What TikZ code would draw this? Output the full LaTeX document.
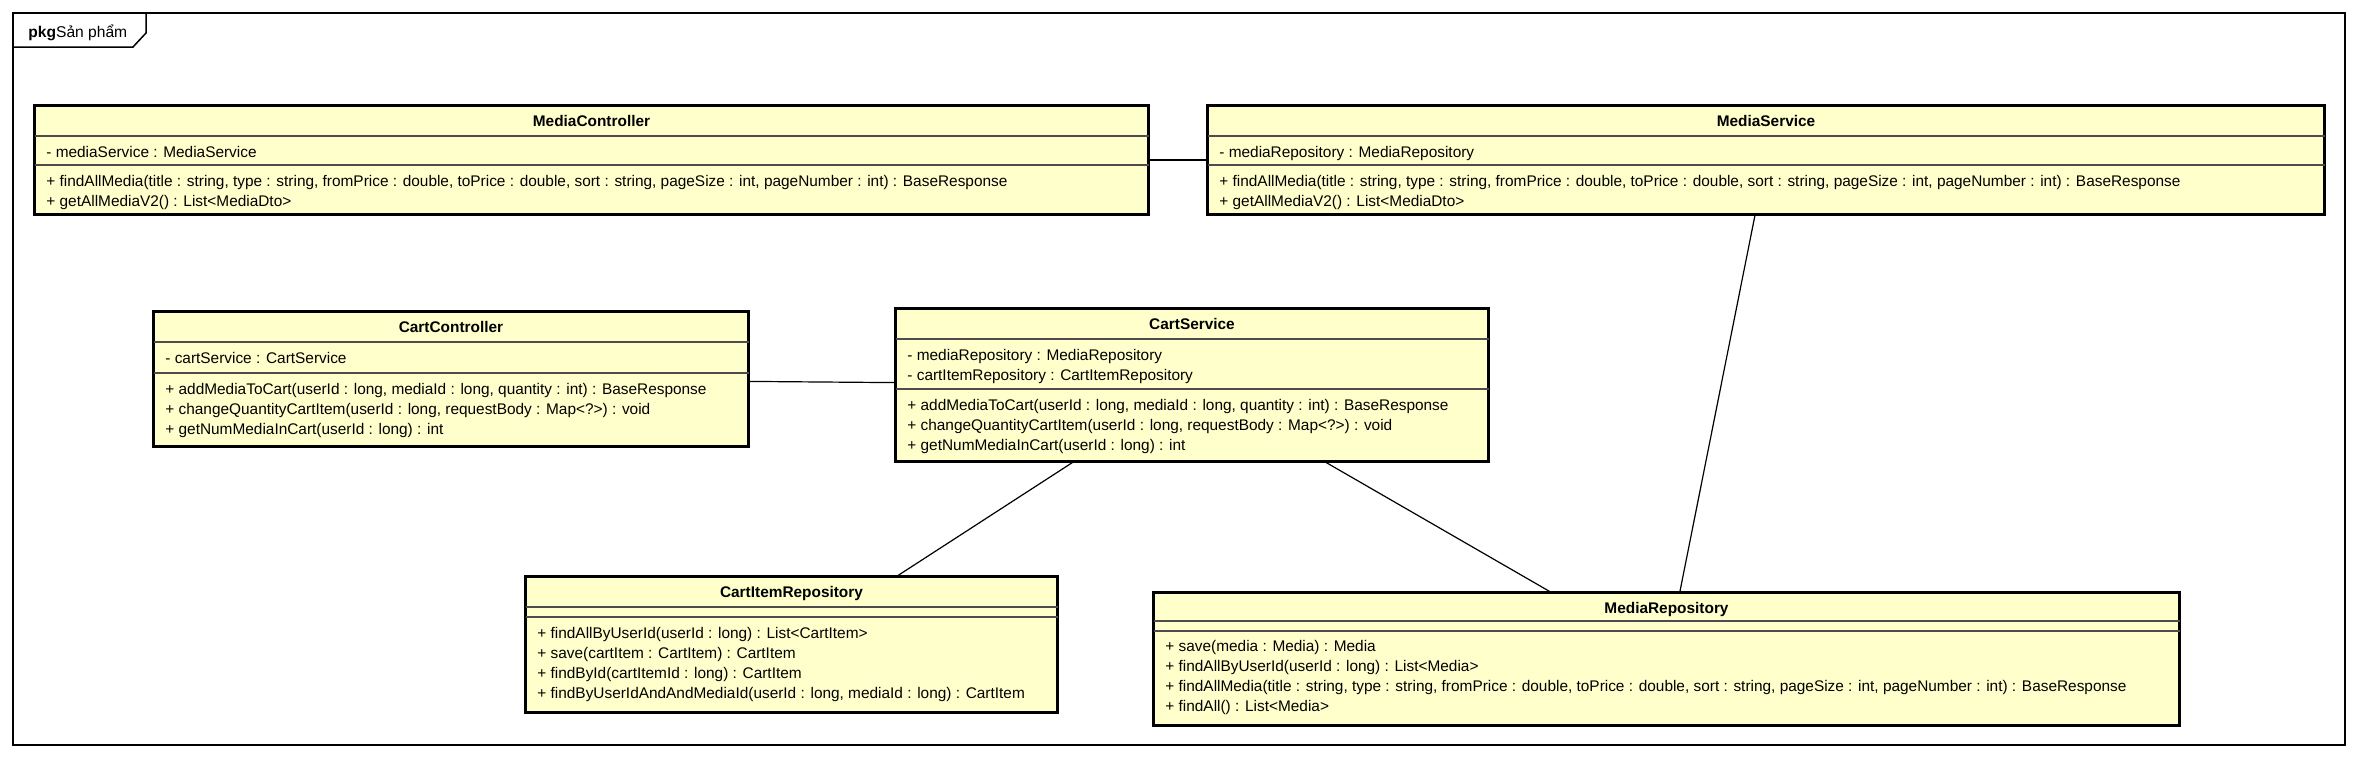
\documentclass[tikz,border=0pt]{standalone}
\usepackage{fontspec}
\setmainfont{Liberation Sans}
\usetikzlibrary{positioning}
\definecolor{classfill}{RGB}{255,255,204}
\begin{document}
\begin{tikzpicture}[x=0.5pt,y=-0.5pt,
        classbox/.style={draw,line width=1.75pt,fill=classfill,inner sep=0pt,outer sep=0pt},
        classname/.style={font=\fontsize{7.7}{10}\selectfont\bfseries,anchor=base,inner sep=0pt},
        members/.style={font=\fontsize{7.7}{10}\selectfont,align=left,anchor=north west,inner sep=0pt},
        divider/.style={line width=0.9pt,black!70},
        assoc/.style={line width=0.6pt}]
        \useasboundingbox (0,0) rectangle (2357,760);
        % package frame
        \draw[line width=0.75pt] (13,13) rectangle (2345,745);
        \draw[line width=0.75pt] (13,47) -- (133,47) -- (146,33) -- (146,13);
        \node[anchor=base west,inner sep=0pt,font=\fontsize{7.8}{10}\selectfont] (pkg) at (28,37) {\textbf{pkg}Sản phẩm};
        % MediaController
        \node[classbox,minimum width=557pt,minimum height=54.5pt] (mc) at (591.5,160) {};
        \node[classname] (mc-name) at ([yshift=-10.25pt]mc.north) {MediaController};
        \draw[divider] ([yshift=-15.25pt]mc.north west) -- ([yshift=-15.25pt]mc.north east);
        \draw[divider] ([yshift=-29.75pt]mc.north west) -- ([yshift=-29.75pt]mc.north east);
        \node[members] (mc-attr) at ([xshift=5.75pt,yshift=-20.25pt]mc.north west) {- mediaService : MediaService};
        \node[members] (mc-ops) at ([xshift=5.75pt,yshift=-34.75pt]mc.north west) {+ findAllMedia(title : string, type : string, fromPrice : double, toPrice : double, sort : string, pageSize : int, pageNumber : int) : BaseResponse\\+ getAllMediaV2() : List<MediaDto>};
        % MediaService
        \node[classbox,minimum width=558.5pt,minimum height=54.5pt] (ms) at (1766,160) {};
        \node[classname] (ms-name) at ([yshift=-10.25pt]ms.north) {MediaService};
        \draw[divider] ([yshift=-15.25pt]ms.north west) -- ([yshift=-15.25pt]ms.north east);
        \draw[divider] ([yshift=-29.75pt]ms.north west) -- ([yshift=-29.75pt]ms.north east);
        \node[members] (ms-attr) at ([xshift=5.75pt,yshift=-20.25pt]ms.north west) {- mediaRepository : MediaRepository};
        \node[members] (ms-ops) at ([xshift=5.75pt,yshift=-34.75pt]ms.north west) {+ findAllMedia(title : string, type : string, fromPrice : double, toPrice : double, sort : string, pageSize : int, pageNumber : int) : BaseResponse\\+ getAllMediaV2() : List<MediaDto>};
        % CartController
        \node[classbox,minimum width=297.5pt,minimum height=67.5pt] (cc) at (451,379) {};
        \node[classname] (cc-name) at ([yshift=-10.25pt]cc.north) {CartController};
        \draw[divider] ([yshift=-15.25pt]cc.north west) -- ([yshift=-15.25pt]cc.north east);
        \draw[divider] ([yshift=-30.75pt]cc.north west) -- ([yshift=-30.75pt]cc.north east);
        \node[members] (cc-attr) at ([xshift=5.75pt,yshift=-20.25pt]cc.north west) {- cartService : CartService};
        \node[members] (cc-ops) at ([xshift=5.75pt,yshift=-35.75pt]cc.north west) {+ addMediaToCart(userId : long, mediaId : long, quantity : int) : BaseResponse\\+ changeQuantityCartItem(userId : long, requestBody : Map<?>) : void\\+ getNumMediaInCart(userId : long) : int};
        % CartService
        \node[classbox,minimum width=296.5pt,minimum height=76.5pt] (cs) at (1192,385) {};
        \node[classname] (cs-name) at ([yshift=-10.25pt]cs.north) {CartService};
        \draw[divider] ([yshift=-15.25pt]cs.north west) -- ([yshift=-15.25pt]cs.north east);
        \draw[divider] ([yshift=-40.25pt]cs.north west) -- ([yshift=-40.25pt]cs.north east);
        \node[members] (cs-attr) at ([xshift=5.75pt,yshift=-20.25pt]cs.north west) {- mediaRepository : MediaRepository\\- cartItemRepository : CartItemRepository};
        \node[members] (cs-ops) at ([xshift=5.75pt,yshift=-45.25pt]cs.north west) {+ addMediaToCart(userId : long, mediaId : long, quantity : int) : BaseResponse\\+ changeQuantityCartItem(userId : long, requestBody : Map<?>) : void\\+ getNumMediaInCart(userId : long) : int};
        % CartItemRepository
        \node[classbox,minimum width=266pt,minimum height=68pt] (cir) at (791.5,644.5) {};
        \node[classname] (cir-name) at ([yshift=-10.25pt]cir.north) {CartItemRepository};
        \draw[divider] ([yshift=-15.25pt]cir.north west) -- ([yshift=-15.25pt]cir.north east);
        \draw[divider] ([yshift=-20.25pt]cir.north west) -- ([yshift=-20.25pt]cir.north east);
        \node[members] (cir-ops) at ([xshift=5.75pt,yshift=-25.25pt]cir.north west) {+ findAllByUserId(userId : long) : List<CartItem>\\+ save(cartItem : CartItem) : CartItem\\+ findById(cartItemId : long) : CartItem\\+ findByUserIdAndAndMediaId(userId : long, mediaId : long) : CartItem};
        % MediaRepository
        \node[classbox,minimum width=513pt,minimum height=66.5pt] (mr) at (1666.5,659) {};
        \node[classname] (mr-name) at ([yshift=-10.25pt]mr.north) {MediaRepository};
        \draw[divider] ([yshift=-14.25pt]mr.north west) -- ([yshift=-14.25pt]mr.north east);
        \draw[divider] ([yshift=-19.25pt]mr.north west) -- ([yshift=-19.25pt]mr.north east);
        \node[members] (mr-ops) at ([xshift=5.75pt,yshift=-23.5pt]mr.north west) {+ save(media : Media) : Media\\+ findAllByUserId(userId : long) : List<Media>\\+ findAllMedia(title : string, type : string, fromPrice : double, toPrice : double, sort : string, pageSize : int, pageNumber : int) : BaseResponse\\+ findAll() : List<Media>};
        % associations
        \draw[assoc] (mc) -- (ms);
        \draw[assoc] (cc) -- (cs);
        \draw[assoc] (cs) -- (cir);
        \draw[assoc] (cs) -- (mr);
        \draw[assoc] (ms) -- (mr);
\end{tikzpicture}
\end{document}
